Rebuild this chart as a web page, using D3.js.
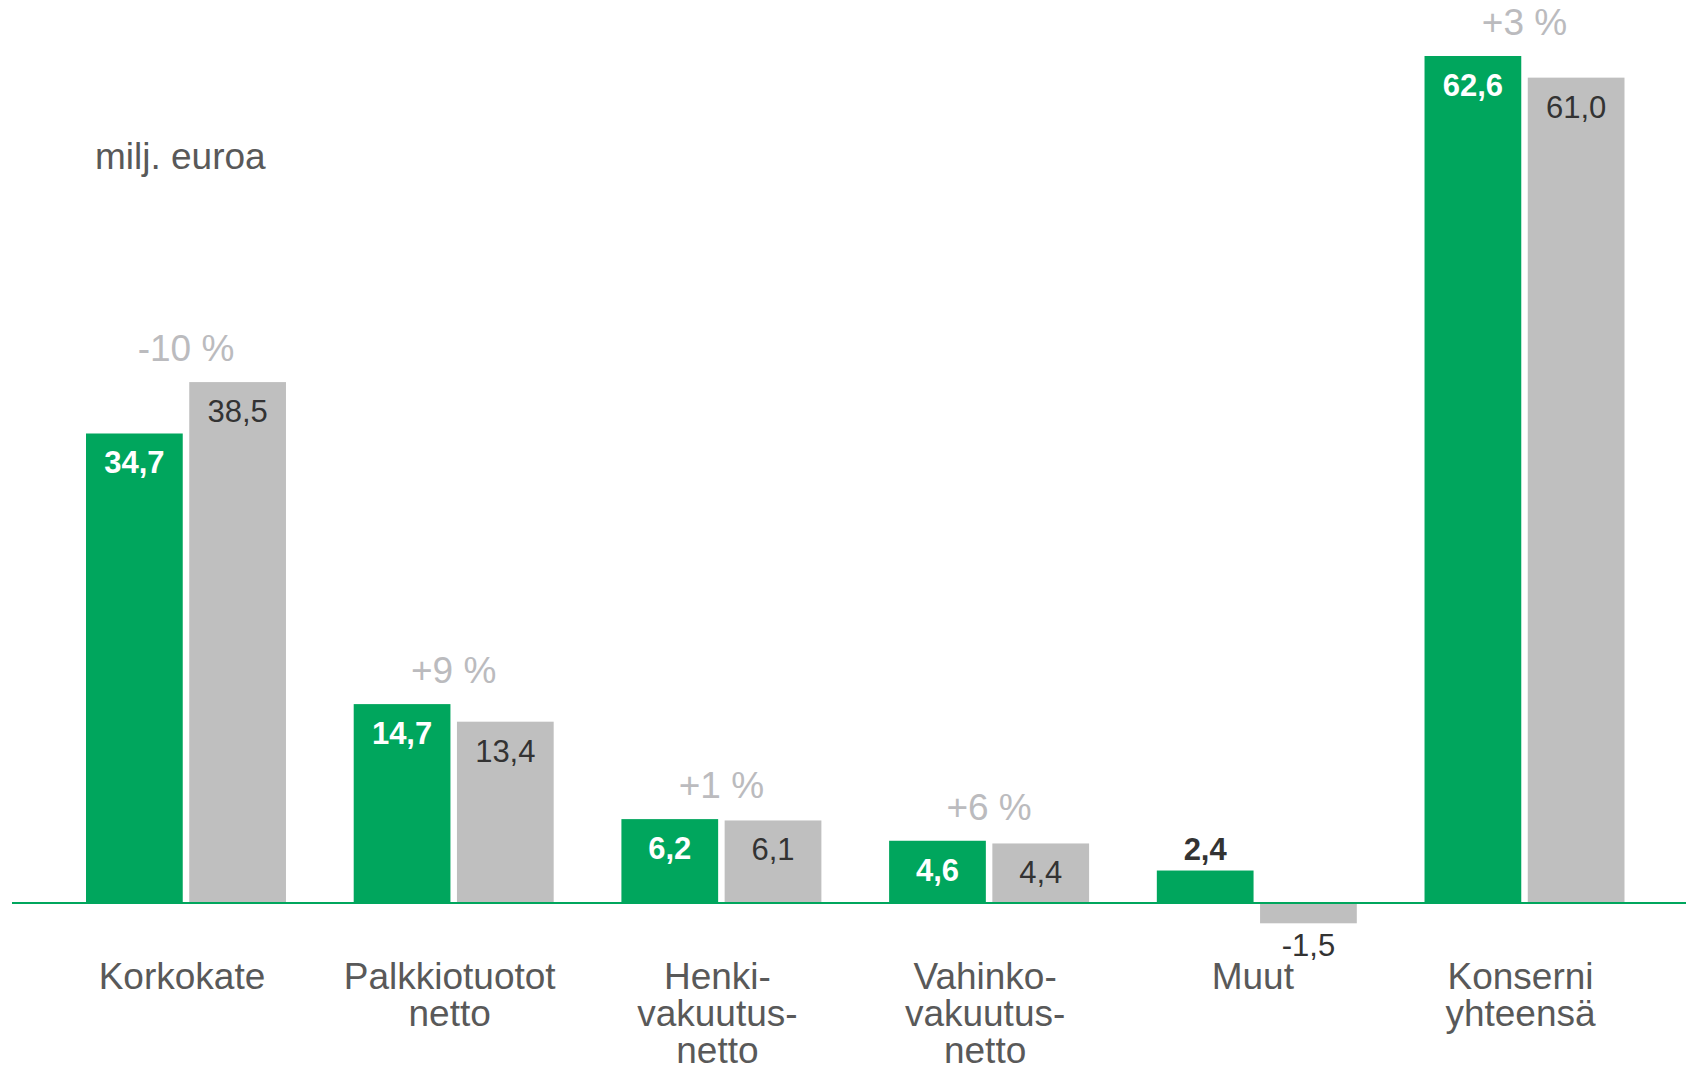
<!DOCTYPE html>
<html>
<head>
<meta charset="utf-8">
<script src="https://cdn.jsdelivr.net/npm/d3@7"></script>
<style>
  html, body { margin: 0; padding: 0; background: #fff; }
  svg { display: block; font-family: "Liberation Sans", Arial, sans-serif; }
</style>
</head>
<body>
<svg id="chart" width="1686" height="1072"></svg>
<script>
// data
var categories = ["Korkokate", "Palkkiotuotot netto", "Henki-vakuutus-netto", "Vahinko-vakuutus-netto", "Muut", "Konserni yhteensä"];
var catLines   = [["Korkokate"], ["Palkkiotuotot", "netto"], ["Henki-", "vakuutus-", "netto"], ["Vahinko-", "vakuutus-", "netto"], ["Muut"], ["Konserni", "yhteensä"]];
var current    = [34.7, 14.7, 6.2, 4.6, 2.4, 62.6];
var previous   = [38.5, 13.4, 6.1, 4.4, -1.5, 61.0];
var changes    = ["-10 %", "+9 %", "+1 %", "+6 %", "", "+3 %"];
var unitLabel  = "milj. euroa";

var GREEN = "#00A65D";
var GRAY  = "#BFBFBF";

var W = 1686, H = 1072;
var BASE_Y = 903;

var fi = d3.formatLocale({ decimal: ",", thousands: " ", grouping: [3], currency: ["", " €"], minus: "-" });
var fmt = fi.format(".1f");

var svg = d3.select("#chart");

// scales
var x = d3.scaleBand()
  .domain(categories)
  .range([86, 1624.5])
  .paddingInner(0.253)
  .paddingOuter(0);

var xs = d3.scaleBand()
  .domain(["cur", "prev"])
  .range([0, x.bandwidth()])
  .paddingInner(0.063);

var y = d3.scaleLinear()
  .domain([0, d3.max(current)])
  .range([BASE_Y, 56]);

// flatten into bars
var bars = [];
categories.forEach(function (c, i) {
  bars.push({ cat: c, key: "cur", v: current[i] });
  bars.push({ cat: c, key: "prev", v: previous[i] });
});

svg.selectAll("rect.bar")
  .data(bars)
  .enter()
  .append("rect")
  .attr("class", "bar")
  .attr("x", function (d) { return x(d.cat) + xs(d.key); })
  .attr("y", function (d) { return Math.min(y(d.v), y(0)); })
  .attr("width", xs.bandwidth())
  .attr("height", function (d) { return Math.abs(y(d.v) - y(0)); })
  .attr("fill", function (d) { return d.key == "cur" ? GREEN : GRAY; });

// baseline
svg.append("line")
  .attr("x1", 12).attr("x2", W)
  .attr("y1", y(0)).attr("y2", y(0))
  .attr("stroke", GREEN)
  .attr("stroke-width", 2);

// value labels
svg.selectAll("text.val")
  .data(bars)
  .enter()
  .append("text")
  .attr("class", "val")
  .attr("text-anchor", "middle")
  .attr("x", function (d) { return x(d.cat) + xs(d.key) + xs.bandwidth() / 2; })
  .attr("y", function (d) {
    var h = Math.abs(y(d.v) - y(0));
    if (d.v < 0) return y(d.v) + 33;    // below negative bar
    if (h < 45) return y(d.v) - 11;     // too small, sits on top
    return y(d.v) + 40;                  // inside near top
  })
  .attr("font-size", 31)
  .attr("font-weight", function (d) { return d.key == "cur" ? "bold" : "normal"; })
  .attr("fill", function (d) {
    var h = Math.abs(y(d.v) - y(0));
    if (d.key == "cur" && d.v > 0 && h >= 45) return "#fff";
    return "#333";
  })
  .text(function (d) { return fmt(d.v); });

// change labels above groups
svg.selectAll("text.chg")
  .data(categories)
  .enter()
  .append("text")
  .attr("class", "chg")
  .attr("text-anchor", "middle")
  .attr("x", function (d) { return x(d) + x.bandwidth() / 2; })
  .attr("y", function (d, i) { return y(Math.max(current[i], previous[i])) - 21; })
  .attr("font-size", 37)
  .attr("fill", "#BBBBBE")
  .text(function (d, i) { return changes[i]; });

// category labels
var cl = svg.selectAll("text.cat")
  .data(categories)
  .enter()
  .append("text")
  .attr("class", "cat")
  .attr("text-anchor", "middle")
  .attr("font-size", 37)
  .attr("fill", "#595959")
  .attr("y", 989);

cl.selectAll("tspan")
  .data(function (d, i) { return catLines[i].map(function (t) { return { t: t, c: d }; }); })
  .enter()
  .append("tspan")
  .attr("x", function (d) { return x(d.c) + x.bandwidth() / 2 - 4; })
  .attr("dy", function (d, j) { return j == 0 ? 0 : 37; })
  .text(function (d) { return d.t; });

// unit label
svg.append("text")
  .attr("x", 95)
  .attr("y", 169)
  .attr("font-size", 37)
  .attr("fill", "#595959")
  .text(unitLabel);
</script>
</body>
</html>
